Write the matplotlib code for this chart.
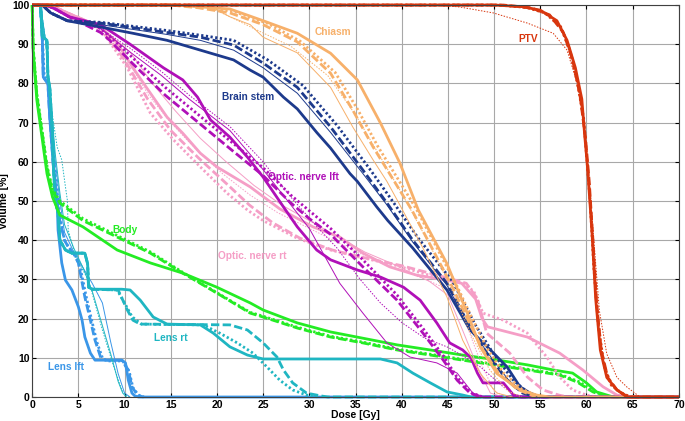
import matplotlib
matplotlib.use("Agg")
import matplotlib.pyplot as plt

plt.rcParams['font.family'] = ['Liberation Sans', 'DejaVu Sans']
plt.rcParams['font.weight'] = 'bold'

# ---- data (dose in Gy, volume in %) ----
# Lens lft
lensl_solid_d = [0, 0.9, 1.1, 1.2, 1.7, 1.9, 2.3, 2.7, 2.8, 3.2, 3.6, 4.3, 5.0, 5.4, 5.7, 6.3, 6.8, 9.7, 10.1, 10.4, 10.8, 11.1, 11.5, 70]
lensl_solid_v = [100, 100, 91, 81.6, 80, 71.4, 58.7, 50, 42.6, 34.2, 29.8, 27.3, 23, 19.6, 15.3, 11.2, 9.4, 9.4, 8.7, 4.3, 1, 0.3, 0, 0]
lensl_dash_d = [0, 0.9, 1.1, 1.2, 1.7, 1.9, 2.3, 2.7, 3.0, 3.5, 3.9, 4.5, 5.0, 5.7, 6.3, 6.8, 7.4, 7.9, 9.7, 10.4, 10.8, 11.4, 12.0]
lensl_dash_v = [100, 100, 91, 81.6, 80, 71.4, 58.7, 50, 45, 40, 38.3, 36.5, 34.2, 25.5, 19.6, 14.5, 10.2, 9.4, 9.4, 6.9, 2.6, 0.5, 0]
lensl_dot_d = [0, 0.9, 1.1, 1.3, 1.8, 2.0, 2.4, 2.8, 3.1, 3.5, 4.0, 4.6, 5.2, 5.9, 6.5, 7.0, 7.6, 8.1, 9.8, 10.5, 10.9, 11.5, 12.1]
lensl_dot_v = [100, 100, 92, 82, 80, 72, 59, 50, 45, 40, 38, 36.5, 33, 25, 19, 14, 10, 9.2, 9.2, 6.5, 2.4, 0.5, 0]
lensl_thin_d = [0, 0.9, 1.5, 2.0, 2.5, 3.0, 3.5, 4.5, 5.5, 6.5, 7.6, 8.5, 9.3, 10.0, 10.6]
lensl_thin_v = [100, 100, 90, 75, 60, 50, 42, 37, 33, 29, 24, 14, 6, 1, 0]

# Lens rt
lensr_solid_d = [0, 0.9, 1.1, 1.6, 1.7, 1.9, 2.2, 2.3, 2.5, 2.8, 3.0, 3.6, 4.3, 5.7, 6.0, 6.1, 6.5, 9.7, 10.6, 11.7, 13.1, 14.6, 18.2, 19.6, 21.4, 23.3, 25.0, 37.7, 39.5, 41.2, 43.1, 44.9, 46.6, 47.5, 70]
lensr_solid_v = [100, 100, 92, 91, 81.6, 79, 67, 58.7, 50, 47, 40, 37.5, 36.7, 36.7, 34, 28, 27.5, 27.5, 27.3, 24.7, 20.4, 18.6, 18.4, 16.3, 12.8, 10.7, 9.7, 9.7, 8.7, 6.1, 3.6, 1.3, 0.5, 0, 0]
lensr_dash_d = [0, 0.9, 1.1, 1.6, 1.7, 1.9, 2.2, 2.3, 2.5, 2.8, 3.0, 3.6, 4.3, 5.7, 6.0, 6.1, 6.5, 9.3, 10.3, 10.9, 11.7, 21.4, 23.3, 25.0, 26.5, 27.2, 28.2, 29.7, 31.2, 32, 70]
lensr_dash_v = [100, 100, 92, 91, 81.6, 79, 67, 58.7, 50, 47, 40, 37.5, 36.7, 36.7, 34, 28, 27.5, 27.3, 22.2, 19.6, 18.6, 18.4, 17.1, 13.8, 10.2, 6.9, 3.6, 1, 0.3, 0, 0]
lensr_dot_d = [0, 0.9, 1.1, 1.6, 1.7, 1.9, 2.2, 2.3, 2.5, 2.8, 3.0, 3.6, 4.3, 5.7, 6.0, 6.1, 6.5, 9.2, 10.0, 10.8, 11.8, 18.5, 20.3, 22.2, 23.9, 25.4, 26.8, 28.2, 29.7, 31]
lensr_dot_v = [100, 100, 92, 91, 81.6, 79, 67, 58.7, 50, 47, 40, 37.5, 36.7, 36.7, 34, 28, 27.5, 27.3, 24, 20.5, 18.6, 18.4, 16.3, 13.8, 11.2, 7.7, 4.3, 1.8, 0.5, 0]
lensr_thin_d = [0, 0.9, 1.5, 2.0, 2.5, 3.0, 3.5, 4.5, 5.5, 6.5, 7.5, 8.5, 9.3, 9.8, 10.2]
lensr_thin_v = [100, 100, 90, 76, 62, 52, 44, 38, 33, 27, 19, 11, 4, 1, 0]
lensr_tdot_d = [0, 0.9, 1.5, 2.0, 2.7, 3.2, 3.6, 3.8, 3.9, 4.7, 6.1, 7.6, 8.7, 9.7, 10.1, 10.5]
lensr_tdot_v = [100, 100, 90, 75, 63.8, 60.5, 53.6, 50.3, 42.6, 35.7, 29.8, 17.1, 8.7, 1.8, 0.5, 0]

# Body
body_solid_d = [0, 0.1, 0.5, 1.1, 1.6, 2.2, 3.0, 5.5, 9.2, 12.8, 16.3, 20.0, 23.6, 25.0, 28.7, 32.3, 35.8, 39.5, 43.1, 46.6, 49.9, 53.6, 56.4, 58.5, 60.0, 61.1, 62.9, 70]
body_solid_v = [100, 88.5, 75.8, 65.6, 57, 51, 46.4, 43.4, 37.5, 34.2, 31.6, 28, 24, 22.2, 18.9, 16.6, 15, 13.3, 12, 10.7, 9.6, 8.2, 6.9, 6.1, 3.6, 1.3, 0, 0]
body_dash_d = [0, 0.1, 0.5, 1.1, 1.6, 2.2, 3.0, 5.5, 9.2, 12.8, 16.3, 20.0, 23.6, 25.0, 28.7, 32.3, 35.8, 39.5, 43.1, 46.6, 49.9, 53.6, 57.1, 59.0, 60.7, 62.2, 70]
body_dash_v = [100, 89, 77, 67, 58.5, 52.5, 49.5, 45, 40.8, 36.7, 31.6, 26.5, 21.4, 20.4, 17.6, 15.3, 13.8, 12, 10.7, 9.4, 8.2, 6.9, 5.6, 3.8, 1.3, 0, 0]
body_dot_d = [0, 0.1, 0.5, 1.1, 1.6, 2.2, 3.0, 5.5, 9.2, 12.8, 16.3, 20.0, 23.6, 25.0, 28.7, 32.3, 35.8, 39.5, 43.1, 46.6, 49.9, 53.6, 57.1, 59.2, 60.9, 62.4]
body_dot_v = [100, 89.5, 77.5, 67.5, 59, 53, 50, 45.5, 41.2, 37, 31.8, 26.6, 21.6, 20.6, 17.8, 15.5, 14, 12.2, 10.9, 9.6, 8.4, 7.1, 5.8, 3.9, 1.3, 0]

# Optic nerve rt
optr_solid_d = [0, 2.0, 3.8, 7.4, 9.2, 10.9, 12.8, 14.6, 16.3, 18.2, 20.0, 23.6, 26.8, 30.4, 33.3, 35.8, 38.7, 41.6, 44.9, 46.5, 48.0, 48.7, 49.3, 53.6, 57.1, 59.6, 61.8, 63.3, 64.5, 70]
optr_solid_v = [100, 100, 98, 94.4, 90.3, 84, 77.5, 71.4, 67.3, 62.2, 58.7, 53.6, 48, 43.4, 40.8, 36.7, 33.2, 31.1, 29.8, 29, 25, 20, 17.9, 15.3, 11.2, 6.9, 2.6, 0.5, 0, 0]
optr_dot_d = [0, 2.0, 3.8, 7.4, 10.3, 12.8, 15.3, 18.2, 21.1, 23.3, 25.0, 28.7, 32.3, 35.8, 39.5, 43.1, 46.6, 47.8, 48.8, 51.0, 53.6, 55.7, 57.1, 58.5, 60.0, 61]
optr_dot_v = [100, 100, 98, 94, 84, 72.4, 65.6, 58.7, 52, 47.7, 45, 40.5, 37.5, 35.5, 33.5, 31, 29, 27, 21.4, 19.6, 16.3, 10.2, 5.1, 1.8, 0.5, 0]
optr_dash_d = [0, 2.0, 3.8, 7.4, 10.0, 12.5, 15.0, 18.0, 21.0, 23.5, 26.0, 29.0, 32.5, 36.0, 40.0, 44.0, 47.0, 48.2, 49.2, 51.7, 53.6, 55.3, 57.0, 58]
optr_dash_v = [100, 100, 98, 94.5, 86, 76, 68, 61, 54.5, 49, 44.5, 40.5, 37.5, 35.5, 33.5, 31, 29, 25, 16.3, 11.2, 5.1, 1.8, 0.5, 0]
optr_thin_d = [0, 2.0, 4.0, 7.4, 10.6, 13.0, 15.5, 18.2, 21.0, 24.0, 27.0, 30.0, 33.0, 36.0, 39.0, 43.0, 45.0, 46.6, 48.2, 49.6, 51]
optr_thin_v = [100, 100, 98, 94.5, 88, 80, 73, 66, 60, 54, 49, 45, 41, 37, 34, 29.5, 26, 17, 7.7, 1, 0]
optr_tdot_d = [0, 2.0, 4.0, 7.4, 10.3, 12.6, 15.0, 17.8, 20.6, 23.6, 26.6, 29.6, 32.6, 35.6, 38.6, 42.6, 45.4, 47.0, 48.6, 50.0, 51.4]
optr_tdot_v = [100, 100, 97.5, 93.5, 86, 77, 70, 63, 57, 51.5, 47, 43.5, 40, 36.5, 33.5, 30, 27, 18.5, 8.5, 1.5, 0]

# Optic nerve lft
optl_solid_d = [0, 1.5, 2.5, 4.0, 7.4, 10.6, 14.2, 16.3, 17.9, 19.3, 21.4, 23.3, 25.0, 27.2, 28.7, 30.8, 32.3, 35.2, 37.7, 40.2, 42.0, 43.8, 45.2, 46.6, 47.5, 48.2, 48.8, 51.0, 52.1, 53, 70]
optl_solid_v = [100, 100, 99, 97, 95, 90, 84, 80.9, 76.5, 70.7, 66.3, 61.2, 56.1, 48.5, 43.4, 37.5, 35, 32.4, 30.6, 28, 24.7, 18.9, 13.8, 12, 10, 6.1, 3.6, 3.6, 0.5, 0, 0]
optl_dash_d = [0, 1.5, 2.5, 4.0, 7.4, 8.4, 10.9, 14.4, 18.0, 21.6, 25.0, 28.0, 30.0, 32.3, 35.8, 39.5, 42.3, 44.5, 46.0, 47.4, 48.5, 70]
optl_dash_v = [100, 100, 99, 97, 93, 91, 85, 77, 70, 63, 56.5, 49.5, 45.5, 41.5, 33.2, 24.7, 16.3, 9.4, 4.3, 1, 0, 0]
optl_dot_d = [0, 1.5, 2.5, 4.0, 7.4, 8.4, 10.9, 14.4, 18.0, 21.6, 25.0, 28.0, 30.0, 32.3, 35.8, 39.5, 42.3, 44.5, 46.0, 47.6, 48.8]
optl_dot_v = [100, 100, 99, 97, 94, 92, 86.5, 79, 72, 65, 58.5, 51.5, 47.5, 43, 35, 26, 17.5, 10.5, 5, 1, 0]
optl_thin_d = [0, 1.5, 4.0, 7.4, 10.6, 14.0, 17.0, 21.4, 25.0, 28.0, 30.0, 33.3, 35.8, 38.4, 40.9, 43.8, 46.0, 47.7, 49]
optl_thin_v = [100, 100, 97, 94, 88, 82, 76, 68, 58, 49, 43, 29, 21.4, 13.8, 10.2, 8.7, 6.1, 1, 0]
optl_tdot_d = [0, 1.5, 4.0, 7.4, 10.6, 14.0, 17.0, 21.4, 25.0, 28.0, 31.0, 33.0, 35.5, 37.7, 40.0, 42.5, 44.9, 47.0, 48.5, 51.0, 52.5]
optl_tdot_v = [100, 100, 97, 94, 89, 83, 77, 69, 60, 51, 43, 38, 30, 24, 19, 15, 12.8, 10, 7.7, 2.6, 0]

# Brain stem
bs_solid_d = [0, 1.1, 2.0, 3.8, 7.4, 10.9, 14.6, 18.2, 21.8, 23.6, 25.0, 27.2, 28.7, 30.8, 32.3, 34.4, 35.2, 37.3, 38.5, 41.2, 43.1, 44.9, 47.4, 49.6, 51.4, 52.8, 53.9, 55]
bs_solid_v = [100, 100, 98, 96, 94.4, 92.8, 91, 88.5, 86, 83.4, 81.6, 76.5, 73.5, 67.5, 63.5, 57, 55, 48.5, 45, 38, 32.5, 27.3, 17.1, 12, 7.7, 2.6, 1, 0]
bs_dash_d = [0, 1.1, 2.0, 3.8, 7.4, 14.6, 18.2, 21.8, 25.0, 28.7, 32.3, 35.8, 38.4, 41.2, 44.9, 47.4, 49.2, 51.4, 53.1, 54.5]
bs_dash_v = [100, 100, 98, 96, 95.4, 93, 91.8, 89.8, 85.2, 79, 68.9, 57.9, 49.5, 40, 29, 17.9, 11.2, 4.3, 1, 0]
bs_dot_d = [0, 1.1, 2.0, 3.8, 7.4, 14.6, 18.2, 21.8, 25.5, 29.3, 33.0, 36.5, 39.0, 41.8, 45.5, 48.0, 49.8, 52.0, 53.7, 55]
bs_dot_v = [100, 100, 98, 96, 95.6, 93.5, 92.3, 91, 86, 79.5, 69.3, 58.3, 50, 40.5, 29.5, 18.3, 11.5, 4.5, 1, 0]
bs_thin_d = [0, 1.1, 2.0, 3.8, 7.4, 14.6, 18.2, 21.8, 25.0, 28.7, 32.3, 35.8, 38.4, 41.2, 44.9, 47.4, 49.4, 51.6, 53.3, 54.7]
bs_thin_v = [100, 100, 98, 96, 95, 92.5, 91, 88.5, 84, 77.5, 67.5, 57, 49, 39.5, 28.5, 17.5, 11, 4.2, 1, 0]

# Chiasm
ch_solid_d = [0, 15.7, 20.0, 21.4, 25.0, 28.7, 32.3, 35.2, 37.7, 39.8, 41.8, 44.9, 47.1, 48.5, 50.3, 52.8, 54.6, 56, 70]
ch_solid_v = [100, 100, 99.2, 99, 96, 92.8, 87.7, 80.9, 69.9, 59.7, 47.7, 34, 21.4, 12.8, 6, 1.8, 0.5, 0, 0]
ch_dash_d = [0, 15.0, 18.0, 21.4, 25.0, 28.7, 32.3, 34.7, 36.9, 39.1, 41.1, 43.5, 45.5, 47.3, 48.8, 50.5, 52.5, 54.5]
ch_dash_v = [100, 100, 99.3, 98, 95, 90.6, 82.6, 73.2, 63.8, 55.4, 47.7, 37, 28, 19, 12, 6, 2, 0]
ch_dot_d = [0, 16.0, 19.0, 22.0, 25.5, 29.0, 32.8, 35.2, 37.4, 39.6, 41.6, 44.0, 46.0, 47.8, 49.3, 51.0, 53.0, 55]
ch_dot_v = [100, 100, 99.5, 98.2, 95.3, 90.8, 82.8, 73.5, 64, 55.6, 47.9, 37.2, 28.2, 19.2, 12.2, 6.2, 2, 0]
ch_thin_d = [0, 19.0, 21.4, 23.6, 25.0, 28.7, 32.3, 34.7, 36.9, 38.4, 39.5, 42.3, 44.9, 46.6, 48.5, 50.3, 52]
ch_thin_v = [100, 100, 97, 95, 91.8, 87.8, 79, 68.9, 60.5, 55, 50.3, 38, 25.5, 14.5, 6, 1, 0]
ch_tdot_d = [0, 18.5, 21.0, 24.0, 28.0, 32.0, 35.0, 37.5, 40.0, 43.0, 45.5, 47.5, 49.5, 51.5, 53]
ch_tdot_v = [100, 100, 97.5, 94, 89.5, 82, 72, 62, 52, 39, 27, 16, 7, 1.5, 0]

# PTV
ptv_solid_d = [0, 50.0, 53.0, 55.0, 56.8, 57.9, 58.8, 59.5, 59.8, 60.1, 60.6, 61.0, 61.5, 62.2, 63.3, 64.4, 70]
ptv_solid_v = [100, 100, 99.6, 98.7, 96, 91, 84, 76, 67, 59, 42, 25, 12, 5, 1.8, 0, 0]
ptv_dash_d = [0, 51.0, 54.0, 56.0, 57.5, 58.5, 59.3, 59.9, 60.3, 60.7, 61.1, 61.6, 62.3, 63.3, 64.5, 70]
ptv_dash_v = [100, 100, 99.3, 97.5, 93, 86, 77, 66, 55, 40, 24, 12, 5, 1.8, 0, 0]
ptv_dot_d = [0, 50.5, 53.5, 55.5, 57.2, 58.2, 59.0, 59.7, 60.0, 60.4, 60.8, 61.3, 61.9, 62.7, 63.8, 64.8]
ptv_dot_v = [100, 100, 99.4, 98, 94.5, 88.5, 80.5, 71, 62, 50, 33, 18, 8, 3, 1, 0]
ptv_tdot_d = [0, 44.0, 46.3, 49.9, 53.6, 56.4, 57.9, 59.0, 59.7, 60.3, 60.8, 61.4, 62.2, 63.3, 64.4, 65.8, 70]
ptv_tdot_v = [100, 100, 99.5, 98, 95.4, 92.8, 88.5, 80, 70, 55, 40, 22, 11, 5, 2.5, 0, 0]

labels = ['PTV', 'Chiasm', 'Brain stem', 'Optic. nerve lft', 'Optic. nerve rt', 'Body', 'Lens rt', 'Lens lft']
label_x = [53.7, 32.6, 23.4, 29.4, 23.8, 10.0, 15.0, 3.7]
label_y = [91.3, 93.1, 76.5, 56.1, 36.0, 42.6, 15.0, 7.7]

colors = {
    'PTV': '#d8360e', 'Chiasm': '#f7b06a', 'Brain stem': '#1d3a8c',
    'Optic. nerve lft': '#b010b8', 'Optic. nerve rt': '#f59ec6',
    'Body': '#24ec24', 'Lens rt': '#1fb6c2', 'Lens lft': '#3a96e8',
}

styles = {
    'solid': dict(lw=2.0, ls='-'),
    'dash': dict(lw=2.0, ls=(0, (3, 1.2))),
    'dot': dict(lw=2.0, ls=(0, (0.8, 0.9))),
    'thin': dict(lw=0.7, ls='-'),
    'tdot': dict(lw=0.7, ls=(0, (1.5, 1.5))),
}

curves = [
    ('Lens lft', 'solid', lensl_solid_d, lensl_solid_v),
    ('Lens lft', 'dash', lensl_dash_d, lensl_dash_v),
    ('Lens lft', 'dot', lensl_dot_d, lensl_dot_v),
    ('Lens lft', 'thin', lensl_thin_d, lensl_thin_v),
    ('Lens rt', 'thin', lensr_thin_d, lensr_thin_v),
    ('Lens rt', 'tdot', lensr_tdot_d, lensr_tdot_v),
    ('Lens rt', 'dot', lensr_dot_d, lensr_dot_v),
    ('Lens rt', 'dash', lensr_dash_d, lensr_dash_v),
    ('Lens rt', 'solid', lensr_solid_d, lensr_solid_v),
    ('Body', 'dot', body_dot_d, body_dot_v),
    ('Body', 'dash', body_dash_d, body_dash_v),
    ('Body', 'solid', body_solid_d, body_solid_v),
    ('Optic. nerve rt', 'thin', optr_thin_d, optr_thin_v),
    ('Optic. nerve rt', 'tdot', optr_tdot_d, optr_tdot_v),
    ('Optic. nerve rt', 'dash', optr_dash_d, optr_dash_v),
    ('Optic. nerve rt', 'dot', optr_dot_d, optr_dot_v),
    ('Optic. nerve rt', 'solid', optr_solid_d, optr_solid_v),
    ('Optic. nerve lft', 'thin', optl_thin_d, optl_thin_v),
    ('Optic. nerve lft', 'tdot', optl_tdot_d, optl_tdot_v),
    ('Optic. nerve lft', 'dot', optl_dot_d, optl_dot_v),
    ('Optic. nerve lft', 'dash', optl_dash_d, optl_dash_v),
    ('Optic. nerve lft', 'solid', optl_solid_d, optl_solid_v),
    ('Brain stem', 'thin', bs_thin_d, bs_thin_v),
    ('Brain stem', 'dot', bs_dot_d, bs_dot_v),
    ('Brain stem', 'dash', bs_dash_d, bs_dash_v),
    ('Brain stem', 'solid', bs_solid_d, bs_solid_v),
    ('Chiasm', 'thin', ch_thin_d, ch_thin_v),
    ('Chiasm', 'tdot', ch_tdot_d, ch_tdot_v),
    ('Chiasm', 'dot', ch_dot_d, ch_dot_v),
    ('Chiasm', 'dash', ch_dash_d, ch_dash_v),
    ('Chiasm', 'solid', ch_solid_d, ch_solid_v),
    ('PTV', 'tdot', ptv_tdot_d, ptv_tdot_v),
    ('PTV', 'dot', ptv_dot_d, ptv_dot_v),
    ('PTV', 'dash', ptv_dash_d, ptv_dash_v),
    ('PTV', 'solid', ptv_solid_d, ptv_solid_v),
]

fig = plt.figure(figsize=(6.85, 4.21), dpi=100)
ax = fig.add_axes([0.047, 0.057, 0.944, 0.931])

for name, st, d, v in curves:
    ax.plot(d, v, color=colors[name], solid_capstyle='butt', dash_capstyle='butt',
            clip_on=False, **styles[st])

for lab, x, y in zip(labels, label_x, label_y):
    ax.text(x, y, lab, color=colors[lab], fontsize=7.3, fontweight='bold',
            ha='center', va='center')

ax.set_xlim(0, 70)
ax.set_ylim(0, 100)
ax.set_xticks(range(0, 71, 5))
ax.set_yticks(range(0, 101, 10))
ax.grid(True, color='#a8a8a8', lw=0.8)
ax.set_axisbelow(True)
ax.tick_params(direction='in', length=3, width=0.8, top=True, right=True,
               labelsize=7.5, pad=2, colors='black')
for lab in ax.get_xticklabels() + ax.get_yticklabels():
    lab.set_fontweight('bold')
for sp in ax.spines.values():
    sp.set_color('#404040')
    sp.set_linewidth(0.8)
ax.set_xlabel('Dose [Gy]', fontsize=7.5, fontweight='bold', labelpad=0)
ax.set_ylabel('Volume [%]', fontsize=7.5, fontweight='bold', labelpad=2)

fig.savefig('out.png', dpi=100)
